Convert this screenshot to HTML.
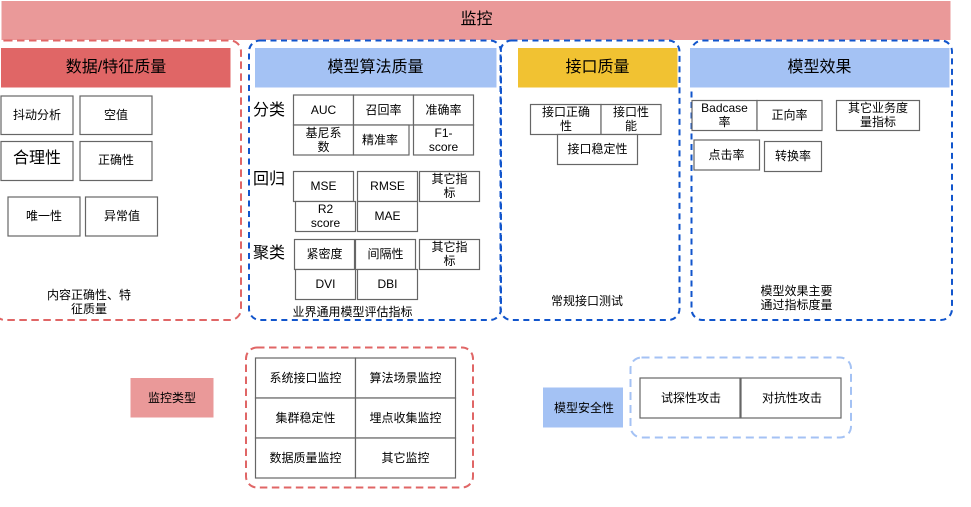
<!DOCTYPE html>
<html>
<head>
<meta charset="utf-8">
<style>
html,body{margin:0;padding:0;background:#fff;width:971px;height:507px;overflow:hidden}
svg{display:block}
text{font-family:"Liberation Sans","Noto Sans CJK SC",sans-serif;font-size:12px;fill:#000;text-anchor:middle}
.b{fill:#fff;stroke:#666;stroke-width:1.2}
.h{font-size:16px}
.l{font-size:16px;text-anchor:start}
.dr{fill:none;stroke:#e06666;stroke-width:2;stroke-dasharray:7.500 4.500}
.db{fill:none;stroke:#1155cc;stroke-width:2;stroke-dasharray:6 4.500}
</style>
</head>
<body>
<svg width="971" height="507" viewBox="0 0 971 507" xmlns="http://www.w3.org/2000/svg">
<rect x="1.500" y="1" width="949" height="39" fill="#ea9999"/>
<text x="476.500" y="24" class="h">监控</text>

<rect class="dr" x="-6" y="40.500" width="247" height="279.500" rx="11"/>
<rect class="db" x="249" y="40.500" width="252" height="279.500" rx="11"/>
<rect class="db" x="500.500" y="40.500" width="179" height="279.500" rx="11"/>
<rect class="db" x="691.500" y="40.500" width="260.500" height="279.500" rx="11"/>

<rect x="1" y="48" width="229.500" height="39.500" fill="#e06666"/>
<text x="116" y="72" class="h">数据/特征质量</text>
<rect x="255" y="48" width="241.500" height="39.500" fill="#a4c2f4"/>
<text x="375.500" y="72" class="h">模型算法质量</text>
<rect x="518" y="48" width="159.500" height="39.500" fill="#f1c232"/>
<text x="597.500" y="72" class="h">接口质量</text>
<rect x="690" y="48" width="259.500" height="39.500" fill="#a4c2f4"/>
<text x="819.500" y="72" class="h">模型效果</text>

<rect class="b" x="1" y="96" width="72" height="38.500"/><text x="37" y="119">抖动分析</text>
<rect class="b" x="80" y="96" width="72" height="38.500"/><text x="116" y="119">空值</text>
<rect class="b" x="1" y="141.500" width="72" height="39"/><text x="37" y="163" class="h">合理性</text>
<rect class="b" x="80" y="141.500" width="72" height="39"/><text x="116" y="164">正确性</text>
<rect class="b" x="8" y="197" width="72" height="39"/><text x="44" y="220">唯一性</text>
<rect class="b" x="85.500" y="197" width="72" height="39"/><text x="122" y="220">异常值</text>
<text x="89" y="299">内容正确性、特</text>
<text x="89" y="313">征质量</text>

<text x="253" y="115" class="l">分类</text>
<text x="253" y="184" class="l">回归</text>
<text x="253" y="258" class="l">聚类</text>

<rect class="b" x="293.500" y="95" width="60" height="30"/><text x="323.500" y="114">AUC</text>
<rect class="b" x="353.500" y="95" width="60" height="30"/><text x="383.500" y="114">召回率</text>
<rect class="b" x="413.500" y="95" width="60" height="30"/><text x="443.500" y="114">准确率</text>
<rect class="b" x="293.500" y="125" width="60" height="30"/><text x="323.500" y="137">基尼系</text><text x="323.500" y="151">数</text>
<rect class="b" x="353.500" y="125" width="55.500" height="30"/><text x="380" y="144">精准率</text>
<rect class="b" x="413.500" y="125" width="60" height="30"/><text x="443.500" y="137">F1-</text><text x="443.500" y="151">score</text>

<rect class="b" x="293.500" y="171.500" width="60" height="30"/><text x="323.500" y="190">MSE</text>
<rect class="b" x="357.500" y="171.500" width="60" height="30"/><text x="387.500" y="190">RMSE</text>
<rect class="b" x="419.500" y="171.500" width="60" height="30"/><text x="449.500" y="183">其它指</text><text x="449.500" y="197">标</text>
<rect class="b" x="295.500" y="201.500" width="60" height="30"/><text x="325.500" y="213">R2</text><text x="325.500" y="227">score</text>
<rect class="b" x="357.500" y="201.500" width="60" height="30"/><text x="387.500" y="220">MAE</text>

<rect class="b" x="294.500" y="239.500" width="60" height="30"/><text x="324.500" y="258">紧密度</text>
<rect class="b" x="355.500" y="239.500" width="60" height="30"/><text x="385.500" y="258">间隔性</text>
<rect class="b" x="419.500" y="239.500" width="60" height="30"/><text x="449.500" y="251">其它指</text><text x="449.500" y="265">标</text>
<rect class="b" x="295.500" y="269.500" width="60" height="30"/><text x="325.500" y="288">DVI</text>
<rect class="b" x="357.500" y="269.500" width="60" height="30"/><text x="387.500" y="288">DBI</text>
<text x="352.500" y="316">业界通用模型评估指标</text>

<rect class="b" x="530.500" y="104.500" width="70.500" height="30"/><text x="566" y="116">接口正确</text><text x="566" y="130">性</text>
<rect class="b" x="601" y="104.500" width="60" height="30"/><text x="631" y="116">接口性</text><text x="631" y="130">能</text>
<rect class="b" x="557.500" y="134.500" width="80" height="30"/><text x="597.500" y="153">接口稳定性</text>
<text x="587" y="305">常规接口测试</text>

<rect class="b" x="692" y="100.500" width="65" height="30"/><text x="724.500" y="112">Badcase</text><text x="724.500" y="126">率</text>
<rect class="b" x="757" y="100.500" width="65" height="30"/><text x="789.500" y="119">正向率</text>
<rect class="b" x="836.500" y="100.500" width="83" height="30"/><text x="878" y="112">其它业务度</text><text x="878" y="126">量指标</text>
<rect class="b" x="694" y="140" width="65.500" height="30"/><text x="726.500" y="159">点击率</text>
<rect class="b" x="764.500" y="141.500" width="57" height="30"/><text x="793" y="160">转换率</text>
<text x="796.500" y="295">模型效果主要</text>
<text x="796.500" y="309">通过指标度量</text>

<rect x="130.500" y="378" width="83" height="39.500" fill="#ea9999"/>
<text x="172" y="402">监控类型</text>
<rect class="dr" x="246" y="347.500" width="227" height="140" rx="11"/>
<rect class="b" x="255.500" y="358" width="100" height="40"/><text x="305.500" y="382">系统接口监控</text>
<rect class="b" x="355.500" y="358" width="100" height="40"/><text x="405.500" y="382">算法场景监控</text>
<rect class="b" x="255.500" y="398" width="100" height="40"/><text x="305.500" y="422">集群稳定性</text>
<rect class="b" x="355.500" y="398" width="100" height="40"/><text x="405.500" y="422">埋点收集监控</text>
<rect class="b" x="255.500" y="438" width="100" height="40"/><text x="305.500" y="462">数据质量监控</text>
<rect class="b" x="355.500" y="438" width="100" height="40"/><text x="405.500" y="462">其它监控</text>

<rect x="543" y="387.500" width="80" height="40" fill="#a4c2f4"/>
<text x="584" y="412">模型安全性</text>
<rect x="630.500" y="357.500" width="220.500" height="80" rx="11" fill="none" stroke="#a4c2f4" stroke-width="2" stroke-dasharray="8 5"/>
<rect class="b" x="640" y="378" width="100" height="40"/><text x="691" y="402">试探性攻击</text>
<rect class="b" x="741" y="378" width="100" height="40"/><text x="792" y="402">对抗性攻击</text>
</svg>
</body>
</html>
